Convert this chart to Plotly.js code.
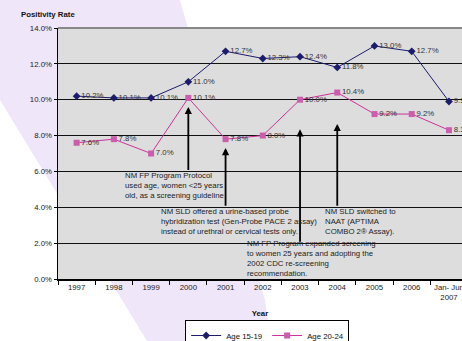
<!DOCTYPE html>
<html>
<head>
<meta charset="utf-8">
<script src="https://cdn.plot.ly/plotly-3.0.1.min.js"></script>
<style>
  html, body { margin: 0; padding: 0; background: #ffffff; overflow: hidden; }
  #wrap { position: relative; width: 462px; height: 341px; }
  #bg { position: absolute; left: 0; top: 0; width: 462px; height: 341px; }
  #chart { position: absolute; left: 0; top: 0; width: 462px; height: 341px; }
</style>
</head>
<body>
<div id="wrap">
  <svg id="bg" width="462" height="341" xmlns="http://www.w3.org/2000/svg">
    <polygon points="0,0 180,0 265,300 270,341 147,341 0,100" fill="#efe7f9"/>
  </svg>
  <div id="chart"></div>
</div>
<script>
// ---- data ----
const years = ['1997', '1998', '1999', '2000', '2001', '2002', '2003', '2004', '2005', '2006', 'Jan- Jun<br>2007'];
const age1519 = [10.2, 10.1, 10.1, 11.0, 12.7, 12.3, 12.4, 11.8, 13.0, 12.7, 9.9];
const age2024 = [7.6, 7.8, 7.0, 10.1, 7.8, 8.0, 10.0, 10.4, 9.2, 9.2, 8.3];
const seriesNames = ['Age 15-19', 'Age 20-24'];
const yTicks = [0, 2, 4, 6, 8, 10, 12, 14];
const notes = [
  'NM FP Program Protocol<br>used age, women <25 years<br>old, as a screening guideline',
  'NM SLD offered a urine-based probe<br>hybridization test (Gen-Probe PACE 2 assay)<br>instead of urethral or cervical tests only.',
  'NM SLD switched to<br>NAAT (APTIMA<br>COMBO 2® Assay).',
  'NM FP Program expanded screening<br>to women 25 years and adopting the<br>2002 CDC re-screening<br>recommendation.'
];

const FONT = 'Arial, "Liberation Sans", sans-serif';
const FS = 7.8;
const fmt = v => v.toFixed(1) + '%';

const traces = [
  {
    x: years, y: age1519, name: seriesNames[0], type: 'scatter', mode: 'lines+markers+text',
    line: { color: '#1c1c6e', width: 1 },
    marker: { symbol: 'diamond', size: 6, color: '#1c1c6e' },
    text: age1519.map(fmt), textposition: 'middle right',
    textfont: { family: FONT, size: FS, color: '#333333' },
    hoverinfo: 'none'
  },
  {
    x: years, y: age2024, name: seriesNames[1], type: 'scatter', mode: 'lines+markers+text',
    line: { color: '#cc3399', width: 1 },
    marker: { symbol: 'square', size: 6, color: '#cc5cad' },
    text: age2024.map(fmt), textposition: 'middle right',
    textfont: { family: FONT, size: FS, color: '#333333' },
    hoverinfo: 'none'
  }
];

// paper coords helpers: plot left=57.7px, width 404.3px; plot bottom=279px, height 251px
const px = v => (v - 57.7) / 404.3;
const py = v => (279 - v) / 251;

const arrowSpecs = [
  { x: 3, head: 9.6, tail: 6.0 },
  { x: 4, head: 7.3, tail: 4.0 },
  { x: 6, head: 8.35, tail: 2.0 },
  { x: 7, head: 8.65, tail: 4.0 }
];
const noteSpecs = [
  { x: 1.24, y: 5.21 },
  { x: 2.20, y: 3.18 },
  { x: 6.63, y: 3.18 },
  { x: 4.53, y: 1.14 }
];

const annotations = [];
arrowSpecs.forEach(a => annotations.push({
  x: a.x, y: a.head, ax: a.x, ay: a.tail, xref: 'x', yref: 'y', axref: 'x', ayref: 'y',
  text: '', showarrow: true, arrowhead: 2, arrowsize: 0.8, arrowwidth: 1.8, arrowcolor: '#000000'
}));
noteSpecs.forEach((n, i) => annotations.push({
  x: n.x, y: n.y, xref: 'x', yref: 'y', xanchor: 'left', yanchor: 'middle', align: 'left',
  text: notes[i], showarrow: false, font: { family: FONT, size: FS, color: '#222222' }
}));

const layout = {
  width: 462, height: 341,
  margin: { l: 58, r: 0, t: 28, b: 62, autoexpand: false },
  paper_bgcolor: 'rgba(0,0,0,0)',
  plot_bgcolor: '#dddddd',
  font: { family: FONT, size: FS, color: '#222222' },
  title: {
    text: '<b>Positivity Rate</b>', xref: 'container', yref: 'container',
    x: 21 / 462, xanchor: 'left', y: 1 - 14 / 341, yanchor: 'middle',
    font: { family: FONT, size: FS, color: '#111111' }
  },
  showlegend: true,
  legend: {
    orientation: 'h', x: px(267), xanchor: 'center', y: py(320), yanchor: 'top',
    bgcolor: '#ffffff', bordercolor: '#000000', borderwidth: 1,
    font: { family: FONT, size: FS, color: '#111111' }, itemwidth: 30, tracegroupgap: 0,
    entrywidth: 36, entrywidthmode: 'pixels'
  },
  xaxis: {
    type: 'category', range: [-0.5, 10.35], showgrid: false, zeroline: false,
    showline: true, linecolor: '#000000', linewidth: 1.5,
    ticks: 'outside', tickson: 'boundaries', ticklen: 4, tickcolor: '#000000', tickwidth: 1,
    tickfont: { family: FONT, size: FS, color: '#222222' },
    title: { text: '<b>Year</b>', standoff: 9, font: { family: FONT, size: FS, color: '#111111' } },
    fixedrange: true
  },
  yaxis: {
    range: [0, 14], tickvals: yTicks, ticktext: yTicks.map(v => v.toFixed(1) + '%'),
    showgrid: true, gridcolor: '#111111', gridwidth: 1, zeroline: false,
    showline: true, linecolor: '#000000', linewidth: 1.5,
    ticks: 'outside', ticklen: 3, tickcolor: '#000000',
    tickfont: { family: FONT, size: FS, color: '#222222' },
    fixedrange: true
  },
  shapes: [
    { type: 'line', xref: 'paper', yref: 'paper', x0: 0, x1: 1, y0: 1, y1: 1, line: { color: '#888888', width: 2 } }
  ],
  annotations: annotations
};

Plotly.newPlot('chart', traces, layout, { displayModeBar: false, staticPlot: true });
</script>
</body>
</html>
